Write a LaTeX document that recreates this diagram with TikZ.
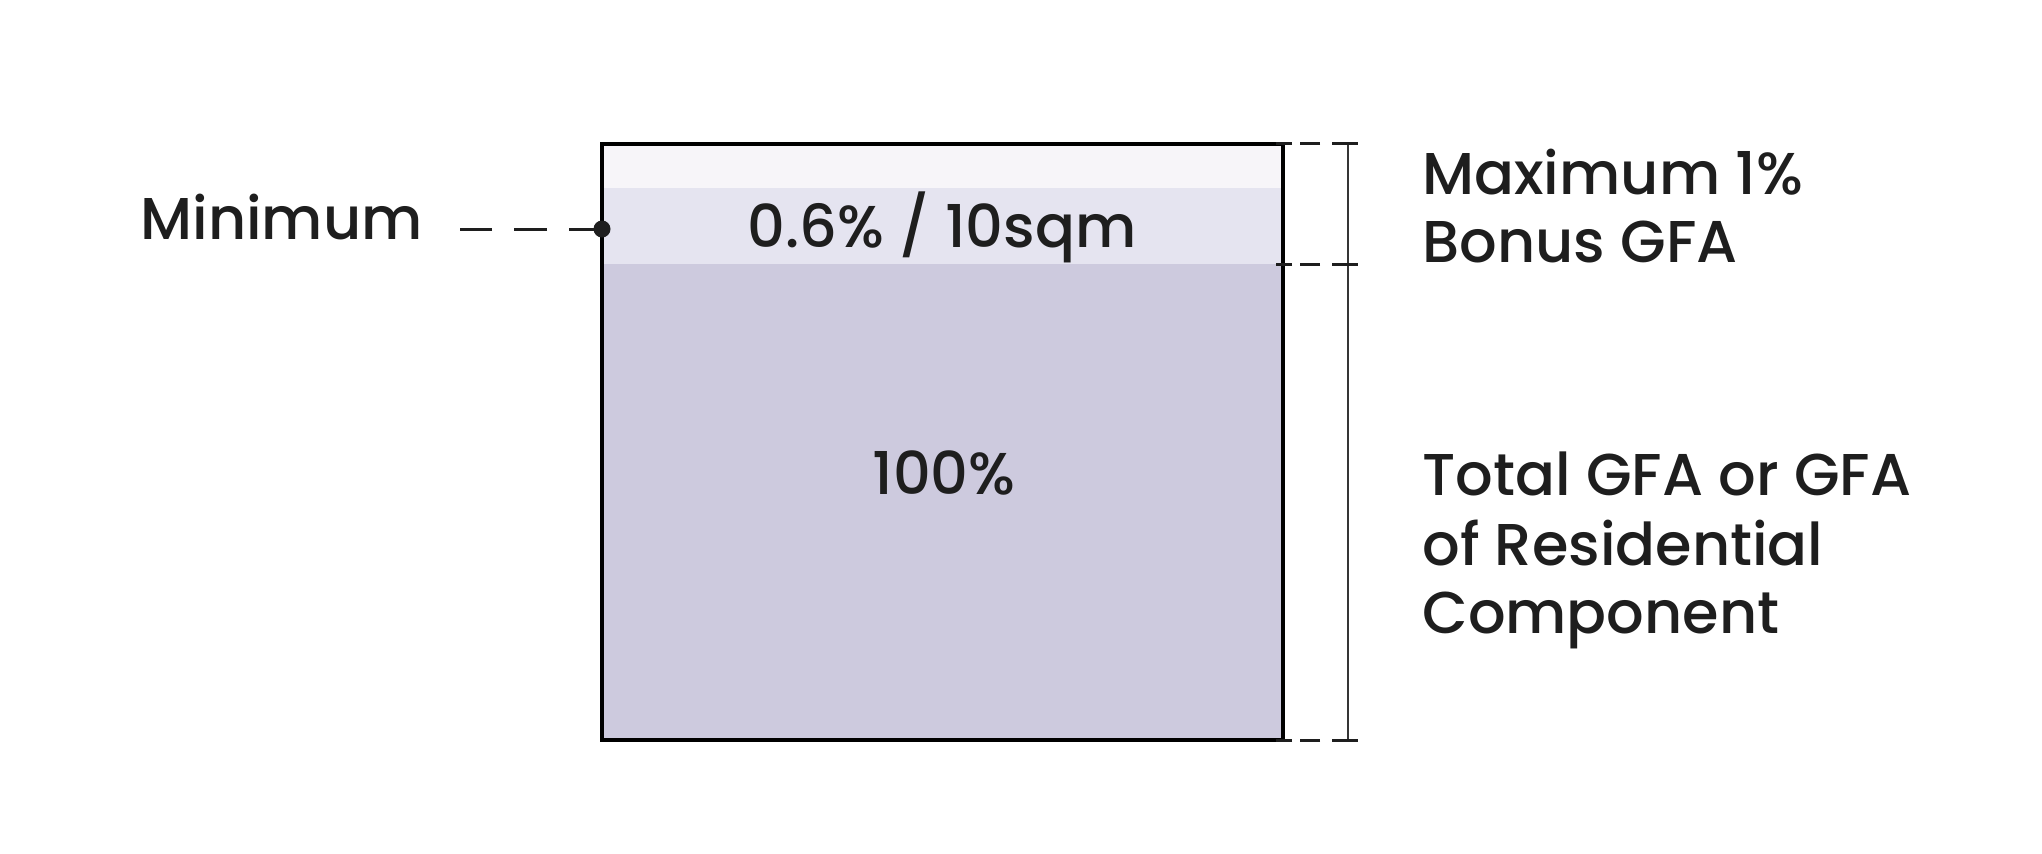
\documentclass[tikz,border=0pt]{standalone}
\usepackage{fontspec}
\setmainfont{Poppins Medium}
\usepackage{tikz}
\usetikzlibrary{positioning}

\definecolor{inkdark}{HTML}{1E1E1E}
\definecolor{bandtop}{HTML}{F7F5F9}
\definecolor{bandmid}{HTML}{E5E4F0}
\definecolor{bandlow}{HTML}{CDCADE}

\begin{document}
\begin{tikzpicture}[x=0.5pt,y=-0.5pt,
  every node/.style={font=\fontsize{29.5}{35}\selectfont,text=inkdark,inner sep=0pt},
  lbl/.style={anchor=base west},
  guide/.style={draw=inkdark,line width=1.5pt,dash pattern=on 10pt off 4pt},
  tick/.style={draw=inkdark!90,line width=1.3pt}]
\useasboundingbox (0,0) rectangle (2042,853);
% stacked bands
\fill[bandtop] (602,144) rectangle (1283,188);
\fill[bandmid] (602,188) rectangle (1283,264);
\fill[bandlow] (602,264) rectangle (1283,740);
\draw[black,line width=2pt] (602,144) rectangle (1283,740);
\node (share) [anchor=base] at (942,247) {0.6\% / 10sqm};
\node (whole) [anchor=base] at (944,494) {100\%};
% left label
\node (minlbl) [lbl] at (140,239) {Minimum};
\node (dot) [circle,fill=inkdark,minimum size=8.5pt] at (602,229) {};
\coordinate (minend) at (460,229);
\draw[draw=inkdark,line width=1.5pt,dash pattern=on 16.5pt off 11pt] (dot.center) -- (minend);
% right bracket
\coordinate (bt) at (1348,143);
\coordinate (bm) at (1348,264);
\coordinate (bb) at (1348,740);
\draw[tick] (bt) -- (bb);
\foreach \c in {bt,bm,bb}
  \draw[guide,solid] ([xshift=-8pt]\c) -- ([xshift=5pt]\c);
\foreach \c in {bt,bm,bb}
  \draw[guide] ([xshift=-14pt]\c) -- ([xshift=-36pt]\c);
% right labels
\node (maxa) [lbl] at (1422,194) {Maximum 1\%};
\node (maxb) [lbl] at (1422,262) {Bonus GFA};
\node (tota) [lbl] at (1422,495) {Total GFA or GFA};
\node (totb) [lbl] at (1422,565) {of Residential};
\node (totc) [lbl] at (1422,633) {Component};
\end{tikzpicture}
\end{document}
